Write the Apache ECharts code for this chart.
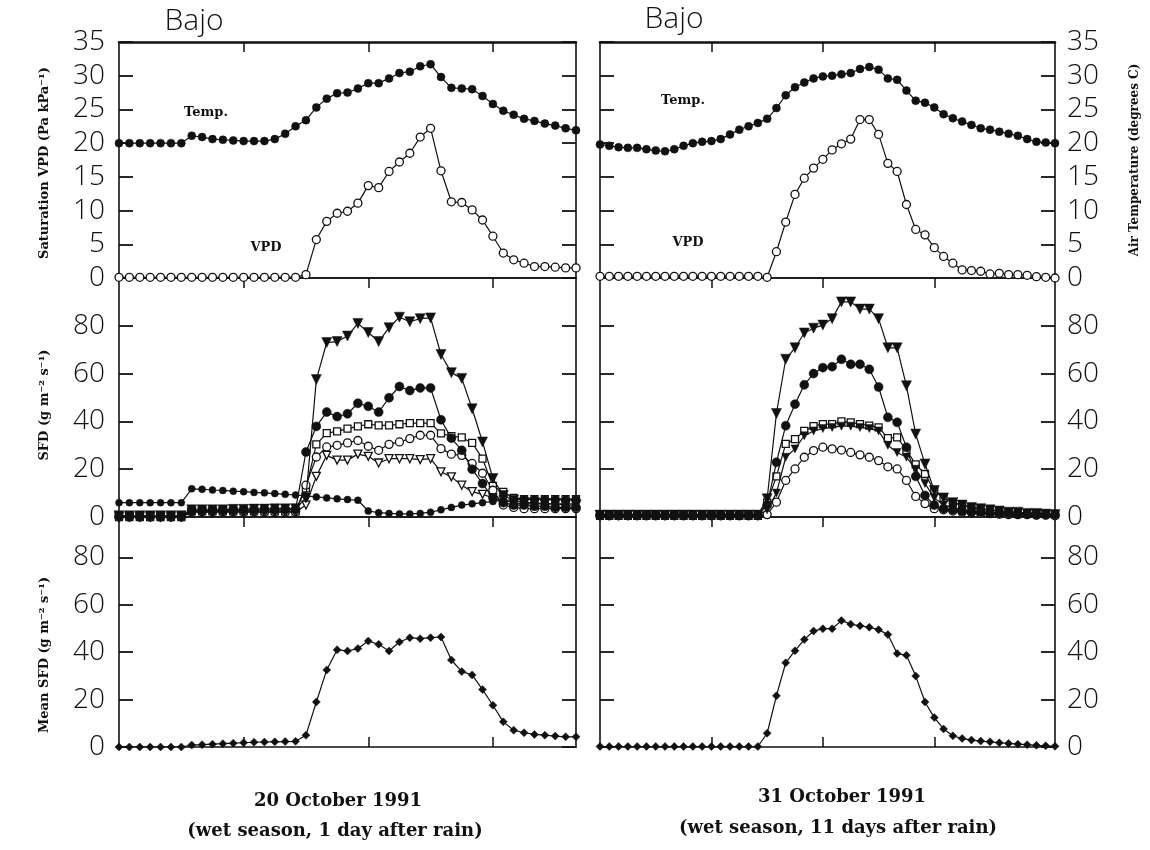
<!DOCTYPE html>
<html><head><meta charset="utf-8">
<script src="https://cdn.jsdelivr.net/npm/echarts@6/dist/echarts.min.js"></script>
<style>html,body{margin:0;padding:0;background:#fff}#c{width:1150px;height:850px}</style>
</head><body><div id="c"></div>
<script>
// ---------- data (half-hourly time of day, hours) ----------
const hoursLeft = [0,0.5,1,1.5,2,2.5,3,3.5,4,4.5,5,5.5,6,6.5,7,7.5,8,8.5,9,9.5,10,10.5,11,11.5,12,12.5,13,13.5,14,14.5,15,15.5,16,16.5,17,17.5,18,18.5,19,19.5,20,20.5,21,21.5,22];
const hoursRight = [0,0.5,1,1.5,2,2.5,3,3.5,4,4.5,5,5.5,6,6.5,7,7.5,8,8.5,9,9.5,10,10.5,11,11.5,12,12.5,13,13.5,14,14.5,15,15.5,16,16.5,17,17.5,18,18.5,19,19.5,20,20.5,21,21.5,22,22.5,23,23.5,24,24.5];
const tickHours = [6,12,18];

// 20 October 1991 — top panel
const tempLeft = [20,20,20,20,20,20,20, 21.1,20.9,20.6,20.5,20.4,20.3,20.3,20.3,20.6,21.4,22.5,23.4,25.3,26.6,27.4,27.5,28.1,28.9,28.9,29.6,30.4,30.6, 31.4,31.7, 29.8,28.2,28.1,28.0,27.0,25.8,24.8,24.2,23.6,23.3,22.9,22.6,22.2,21.9];
const vpdLeft = [0.1,0.1,0.1,0.1,0.1,0.1,0.1,0.1,0.1,0.1,0.1,0.1,0.1,0.1,0.1,0.1,0.1,0.1, 0.5, 5.7,8.4,9.6,9.9,11.1,13.7,13.4,15.8,17.2,18.5,20.9,22.2, 15.9,11.3,11.2,10.1,8.6,6.2,3.7,2.7,2.2,1.7,1.7,1.6,1.5,1.5];
// 20 October 1991 — SFD of individual trees
const sfdLeftA = [0.5,0.5,0.5,0.5,0.5,0.5,0.5, 3,3,3,3,3.2,3.2,3.3,3.3,3.4,3.4,3.5, 8,57.5,73,73.4,75.7,81,77.2,73.4,79.2,83.6,81.7,83,83.3,68,60.4,58,45.3,31.4,16.1,9,7,6,6,5.5,5.5,5,5];
const sfdLeftB = [0.3,0.3,0.3,0.3,0.3,0.3,0.3, 2.6,2.7,2.7,2.8,2.8,2.9,2.9,3,3,3.1,3.1, 27.2,37.9,43.9,42,43.2,47.6,46.3,43.9,49.9,54.6,52.9,54,54,40.7,33,27.9,20,14,8,6,5,5,4.5,4.5,4,4,4];
const sfdLeftC = [0,0,0,0,0,0,0, 2.4,2.4,2.4,2.4,2.4,2.4,2.4,2.4,2.4,2.4,2.4, 12,30.4,35.1,35.8,37,37.9,38.8,38.3,38.3,38.8,39.3,39.3,39.3,35,33.8,33.3,31,24.4,13,10.5,8,7.5,7.5,7.5,7.5,7.5,7.5];
const sfdLeftD = [0,0,0,0,0,0,0, 2.2,2.2,2.2,2.2,2.2,2.2,2.2,2.2,2.2,2.2,2.2, 13.3,25.1,29.3,30,31,32,29.6,27.9,30.4,31.4,32.8,34.2,34.2,28.6,26.3,25.8,22.4,18.3,11.2,5,4,3.5,3.5,3.5,3.5,3.5,3.5];
const sfdLeftE = [0,0,0,0,0,0,0, 2,2,2,2,2,2,2,2,2,2,2, 5,17,25.8,23.8,23.8,26.3,25.4,22.6,24.4,24.4,24.4,24,24.4,18.9,16.8,13.3,10.6,9.5,8,7,6,5.5,5.5,5.5,5.5,5.5,5.5];
const sfdLeftF = [6,6,6,6,6,6,6, 11.8,11.6,11.3,11.1,10.8,10.6,10.3,10.1,9.8,9.5,9.2,8.8,8.4,8.0,7.6,7.3,7.0, 2.5,1.8,1.5,1.3,1.3,1.5,2.0,3.0,4.0,5.0,5.5,6.0,6.5,7.0,7.2,7.5,7.5,7.5,7.5,7.5,7.5];
const meanLeft = [0,0,0,0,0,0,0, 0.8,1.0,1.2,1.4,1.6,1.8,2.0,2.1,2.2,2.3,2.4, 5.0,19,32.5,41,40.5,41.5,44.7,43.3,40.5,44.3,46.1,45.7,46.1,46.4,36.7,31.8,30.4,24.2,17.6,10.6,7.1,6,5.3,5,4.6,4.3,4.3];

// 31 October 1991 — top panel
const tempRight = [19.8,19.6,19.4,19.3,19.3,19.1,18.9,18.8,19.1,19.6,20.0,20.2,20.3,20.6,21.3,22.0,22.5,23.0,23.6,25.2,27.1,28.3,29.0,29.6,29.9,30.0,30.2,30.4,31.0,31.3,30.9,29.6,29.4,27.8,26.3,26.0,25.3,24.3,23.7,23.2,22.7,22.2,22.0,21.7,21.4,21.1,20.6,20.2,20.1,20.0];
const vpdRight = [0.25,0.25,0.25,0.25,0.25,0.25,0.25,0.25,0.25,0.25,0.25,0.25,0.25,0.25,0.25,0.25,0.25,0.25, 0.1, 3.9,8.3,12.4,14.8,16.3,17.6,19.0,19.9,20.6,23.5,23.5,21.3,17.0,15.8,10.9,7.2,6.4,4.5,3.2,2.2,1.2,1.1,1.0,0.6,0.7,0.5,0.5,0.4,0.2,0.1,0];
// 31 October 1991 — SFD of individual trees
const sfdRightA = [0.8,0.8,0.8,0.8,0.8,0.8,0.8,0.8,0.8,0.8,0.8,0.8,0.8,0.8,0.8,0.8,0.8,0.8, 7.6,43.3,66,70.8,77,79,80.3,83,90,90,87,87,83,70.8,70.8,54.9,34.7,22.2,11.1,8,6,5,4,3.5,3,2.5,2,2,1.5,1.5,1.2,1];
const sfdRightB = [0.8,0.8,0.8,0.8,0.8,0.8,0.8,0.8,0.8,0.8,0.8,0.8,0.8,0.8,0.8,0.8,0.8,0.8, 5,22.9,38.2,47.2,55.3,60,62.5,62.9,66,63.9,63.9,61.8,54.4,41.7,39.6,29.2,17,9,5,3.5,3,2.5,2,2,1.5,1.5,1.5,1.2,1.2,1,1,1];
const sfdRightC = [0.5,0.5,0.5,0.5,0.5,0.5,0.5,0.5,0.5,0.5,0.5,0.5,0.5,0.5,0.5,0.5,0.5,0.5, 6,17,30.6,32.6,36,38,38.9,38.9,40,39.6,38.9,38.2,37.5,33,33.3,28,22,18,11,8,6,5,4,3,3,2.5,2,2,1.5,1.5,1.5,1];
const sfdRightD = [0.5,0.5,0.5,0.5,0.5,0.5,0.5,0.5,0.5,0.5,0.5,0.5,0.5,0.5,0.5,0.5,0.5,0.5, 1,6.2,15.3,20.1,25,27.8,29.2,28.5,28,27,26,25,23.6,21,20.1,15.3,8.6,5.6,3.5,3,2.5,2,2,1.5,1.5,1.2,1,1,1,0.8,0.8,0.5];
const sfdRightE = [0.5,0.5,0.5,0.5,0.5,0.5,0.5,0.5,0.5,0.5,0.5,0.5,0.5,0.5,0.5,0.5,0.5,0.5, 3,10,25,28.5,34,36,37,37.5,38,38,37.5,37,36,30,27,25,20,14,8,5,4,3,2.5,2,2,1.5,1.5,1.2,1,1,1,0.8];
const meanRight = [0.2,0.2,0.2,0.2,0.2,0.2,0.2,0.2,0.2,0.2,0.2,0.2,0.2,0.2,0.2,0.2,0.2,0.2, 5.8,21.6,35.5,40.6,45.3,48.9,49.9,49.9,53.3,51.8,51.1,50.5,49.5,47.4,39.4,38.7,29.9,19,12.4,7.6,4.7,3.6,2.9,2.5,2.2,1.8,1.5,1.2,1.0,0.7,0.5,0.3];

const yTicksTop = [0,5,10,15,20,25,30,35];
const yTicksSfd = [0,20,40,60,80];

// ---------- layout ----------
const cols = [{left:119, width:457, cats:hoursLeft}, {left:600, width:455, cats:hoursRight}];
const rows = [{top:42, height:236, max:35, interval:5, labels:yTicksTop},
              {top:278, height:239, max:100, interval:20, labels:yTicksSfd},
              {top:517, height:230, max:97, interval:20, labels:yTicksSfd}];
const INK = '#111';
const numFont = '"Open Sans", "DejaVu Sans", sans-serif';
const txtFont = '"DejaVu Serif", "Liberation Serif", serif';

const grid = [], xAxis = [], yAxis = [];
cols.forEach((c, ci) => rows.forEach((r, ri) => {
  const g = grid.length;
  grid.push({left:c.left, width:c.width, top:r.top, height:r.height, containLabel:false});
  const tickFn = (idx) => tickHours.indexOf(c.cats[idx]) >= 0;
  xAxis.push({gridIndex:g, type:'category', data:c.cats, boundaryGap:false, position:'bottom',
    axisLine:{show:true, onZero:false, lineStyle:{color:INK, width:1.6}},
    axisTick:{show:ri===2, inside:true, length:10, interval:tickFn, lineStyle:{color:INK, width:1.5}},
    axisLabel:{show:false}, splitLine:{show:false}});
  xAxis.push({gridIndex:g, type:'category', data:c.cats, boundaryGap:false, position:'top',
    axisLine:{show:true, onZero:false, lineStyle:{color:INK, width: ri===0 ? 2.6 : 1.6}},
    axisTick:{show:true, inside:true, length:10, interval:tickFn, lineStyle:{color:INK, width:1.5}},
    axisLabel:{show:false}, splitLine:{show:false}});
  const fmt = (v) => r.labels.indexOf(v) >= 0 ? String(v) : '';
  ['left','right'].forEach((pos, pi) => {
    yAxis.push({gridIndex:g, type:'value', min:0, max:r.max, interval:r.interval, position:pos,
      axisLine:{show:true, onZero:false, lineStyle:{color:INK, width:1.6}},
      axisTick:{show:true, inside:true, length:14, lineStyle:{color:INK, width:1.8}},
      axisLabel:{show: pi===ci, formatter:fmt, fontSize:28, fontFamily:numFont, fontWeight:300, color:INK, margin: pi===0 ? 14 : 12},
      splitLine:{show:false}});
  });
}));

function ser(g, data, symbol, size, open, rotate) {
  return {type:'line', xAxisIndex:2*g, yAxisIndex:2*g, data:data, symbol:symbol, symbolSize:size,
    symbolRotate: rotate || 0, showAllSymbol:true, silent:true,
    lineStyle:{color:INK, width:1.2},
    itemStyle: open ? {color:'#fff', borderColor:INK, borderWidth:1.3} : {color:INK, borderColor:INK, borderWidth:0.5},
    z: open ? 2 : 3};
}
const series = [
  // left column: grids 0,1,2
  ser(0, tempLeft, 'circle', 8, false), ser(0, vpdLeft, 'circle', 8, true),
  ser(1, sfdLeftC, 'rect', 7, true), ser(1, sfdLeftD, 'circle', 8, true),
  ser(1, sfdLeftE, 'triangle', 8, true, 180),
  ser(1, sfdLeftF, 'circle', 7, false),
  ser(1, sfdLeftA, 'triangle', 10, false, 180), ser(1, sfdLeftB, 'circle', 9, false),
  ser(2, meanLeft, 'diamond', 8, false),
  // right column: grids 3,4,5
  ser(3, tempRight, 'circle', 8, false), ser(3, vpdRight, 'circle', 8, true),
  ser(4, sfdRightC, 'rect', 7, true), ser(4, sfdRightD, 'circle', 8, true),
  ser(4, sfdRightE, 'triangle', 8, false, 180),
  ser(4, sfdRightA, 'triangle', 10, false, 180), ser(4, sfdRightB, 'circle', 9, false),
  ser(5, meanRight, 'diamond', 8, false)
];

function txt(x, y, text, size, opts) {
  opts = opts || {};
  return {type:'text', x:x, y:y, rotation: opts.rot || 0, silent:true,
    style:{text:text, fill:INK, font: (opts.weight||'bold') + ' ' + size + 'px ' + (opts.family||txtFont),
      textAlign:'center', textVerticalAlign:'middle'}};
}
const graphic = [
  txt(194, 21, 'Bajo', 30, {weight:'300', family:numFont}),
  txt(674, 19, 'Bajo', 30, {weight:'300', family:numFont}),
  txt(206, 113, 'Temp.', 13), txt(683, 101, 'Temp.', 13),
  txt(266, 248, 'VPD', 13), txt(688, 243, 'VPD', 13),
  txt(45, 163, 'Saturation VPD (Pa kPa\u207B\u00B9)', 13, {rot:Math.PI/2}),
  txt(45, 405, 'SFD (g m\u207B\u00B2 s\u207B\u00B9)', 13, {rot:Math.PI/2}),
  txt(45, 655, 'Mean SFD (g m\u207B\u00B2 s\u207B\u00B9)', 13, {rot:Math.PI/2}),
  txt(1135, 160, 'Air Temperature (degrees C)', 12, {rot:Math.PI/2}),
  txt(338, 801, '20 October 1991', 18),
  txt(335, 831, '(wet season, 1 day after rain)', 18),
  txt(842, 797, '31 October 1991', 18),
  txt(838, 828, '(wet season, 11 days after rain)', 18)
];

const chart = echarts.init(document.getElementById('c'), null, {renderer:'canvas'});
chart.setOption({animation:false, backgroundColor:'#fff', grid, xAxis, yAxis, series, graphic});
</script></body></html>
